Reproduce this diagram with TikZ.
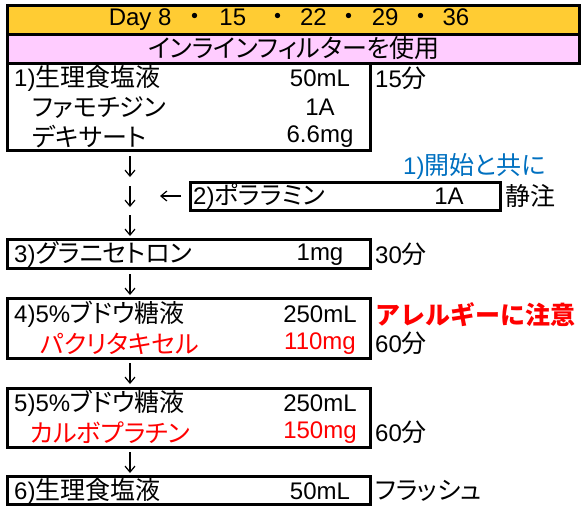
\documentclass[tikz,border=0pt]{standalone}
\usepackage{fontspec}
\setmainfont{Noto Sans CJK JP}[RawFeature=+palt]
\newfontfamily\lat{Liberation Sans}[Scale=0.96]
\newfontfamily\jpw{Noto Sans CJK JP}
\usetikzlibrary{arrows.meta,positioning}
\definecolor{dayorange}{RGB}{255,204,51}
\definecolor{filterpink}{RGB}{255,204,255}
\definecolor{noteblue}{RGB}{0,112,192}

\begin{document}
\begin{tikzpicture}[x=1pt,y=-1pt,
  box/.style={draw,line width=3pt},
  lbl/.style={anchor=west,inner sep=0pt,font=\fontsize{25}{25}\selectfont},
  amt/.style={inner sep=0pt,font=\fontsize{25}{25}\selectfont\lat},
  down/.style={-{Straight Barb[length=6pt,width=10pt]},line width=1.2pt}]
\useasboundingbox (0,0) rectangle (584,506);
\filldraw[fill=dayorange,box] (7.5,5.5) rectangle (579,34);
\filldraw[fill=filterpink,box] (7.5,34) rectangle (579,63);
\node[amt] (day) at (289,19.5) {Day 8\hspace{11pt}{\jpw ・}\hspace{12pt}15\hspace{19pt}{\jpw ・}\hspace{10pt}22\hspace{10pt}{\jpw ・}\hspace{10pt}29\hspace{10pt}{\jpw ・}\hspace{9pt}36};
\node[lbl,anchor=center] (filter) at (294,48.5) {インラインフィルターを使用};
\draw[box] (7.5,63) rectangle (370,150);
\node[lbl] (n1) at (14,78) {{\lat 1)}生理食塩液};
\node[amt] (d1) at (320,78) {50mL};
\node[lbl] (n1b) at (32,107.5) {ファモチジン};
\node[amt] (d1b) at (320,107.5) {1A};
\node[lbl] (n1c) at (32,137) {デキサート};
\node[amt] (d1c) at (320,137) {6.6mg};
\node[lbl] (t1) at (375,78) {{\lat 15}分};
\node[lbl,text=noteblue] (w2) at (403,166) {{\lat 1)}開始と共に};
\draw[box] (190,182) rectangle (500,210);
\node[lbl] (n2) at (193,196) {{\lat 2)}ポララミン};
\node[amt] (d2) at (449,196) {1A};
\node[lbl] (t2) at (505,196) {静注};
\draw[box] (7.5,239.5) rectangle (370,268.5);
\node[lbl] (n3) at (14,254.5) {{\lat 3)}グラニセトロン};
\node[amt] (d3) at (320,254.5) {1mg};
\node[lbl] (t3) at (375,254.5) {{\lat 30}分};
\draw[box] (7.5,298.5) rectangle (370,358);
\node[lbl] (n4) at (14,314) {{\lat 4)5\%}ブドウ糖液};
\node[amt] (d4) at (320,314) {250mL};
\node[lbl,text=red] (n4b) at (40,343.5) {パクリタキセル};
\node[amt,text=red] (d4b) at (320,343.5) {110mg};
\node[lbl,text=red,font=\fontsize{25}{25}\jpw\bfseries] (w4) at (375,314.5) {アレルギーに注意};
\node[lbl] (t4) at (375,343.5) {{\lat 60}分};
\draw[box] (7.5,388) rectangle (370,447);
\node[lbl] (n5) at (14,403) {{\lat 5)5\%}ブドウ糖液};
\node[amt] (d5) at (320,403) {250mL};
\node[lbl,text=red] (n5b) at (30,432.5) {カルボプラチン};
\node[amt,text=red] (d5b) at (320,432.5) {150mg};
\node[lbl] (t5) at (375,432.5) {{\lat 60}分};
\draw[box] (7.5,476) rectangle (370,504);
\node[lbl] (n6) at (14,491) {{\lat 6)}生理食塩液};
\node[amt] (d6) at (320,491) {50mL};
\node[lbl] (t6) at (375,491) {フラッシュ};
\draw[down] (130,156) coordinate (a1) -- (130,177) coordinate (a1e);
\draw[down] (130,186) coordinate (a2) -- (130,207) coordinate (a2e);
\draw[down] (130,215) coordinate (a3) -- (130,236) coordinate (a3e);
\draw[down] (130,274) coordinate (a4) -- (130,295) coordinate (a4e);
\draw[down] (130,363) coordinate (a5) -- (130,384) coordinate (a5e);
\draw[down] (130,452) coordinate (a6) -- (130,473) coordinate (a6e);
\draw[down] (181,196) coordinate (b1) -- (160,196) coordinate (b1e);
\end{tikzpicture}
\end{document}
